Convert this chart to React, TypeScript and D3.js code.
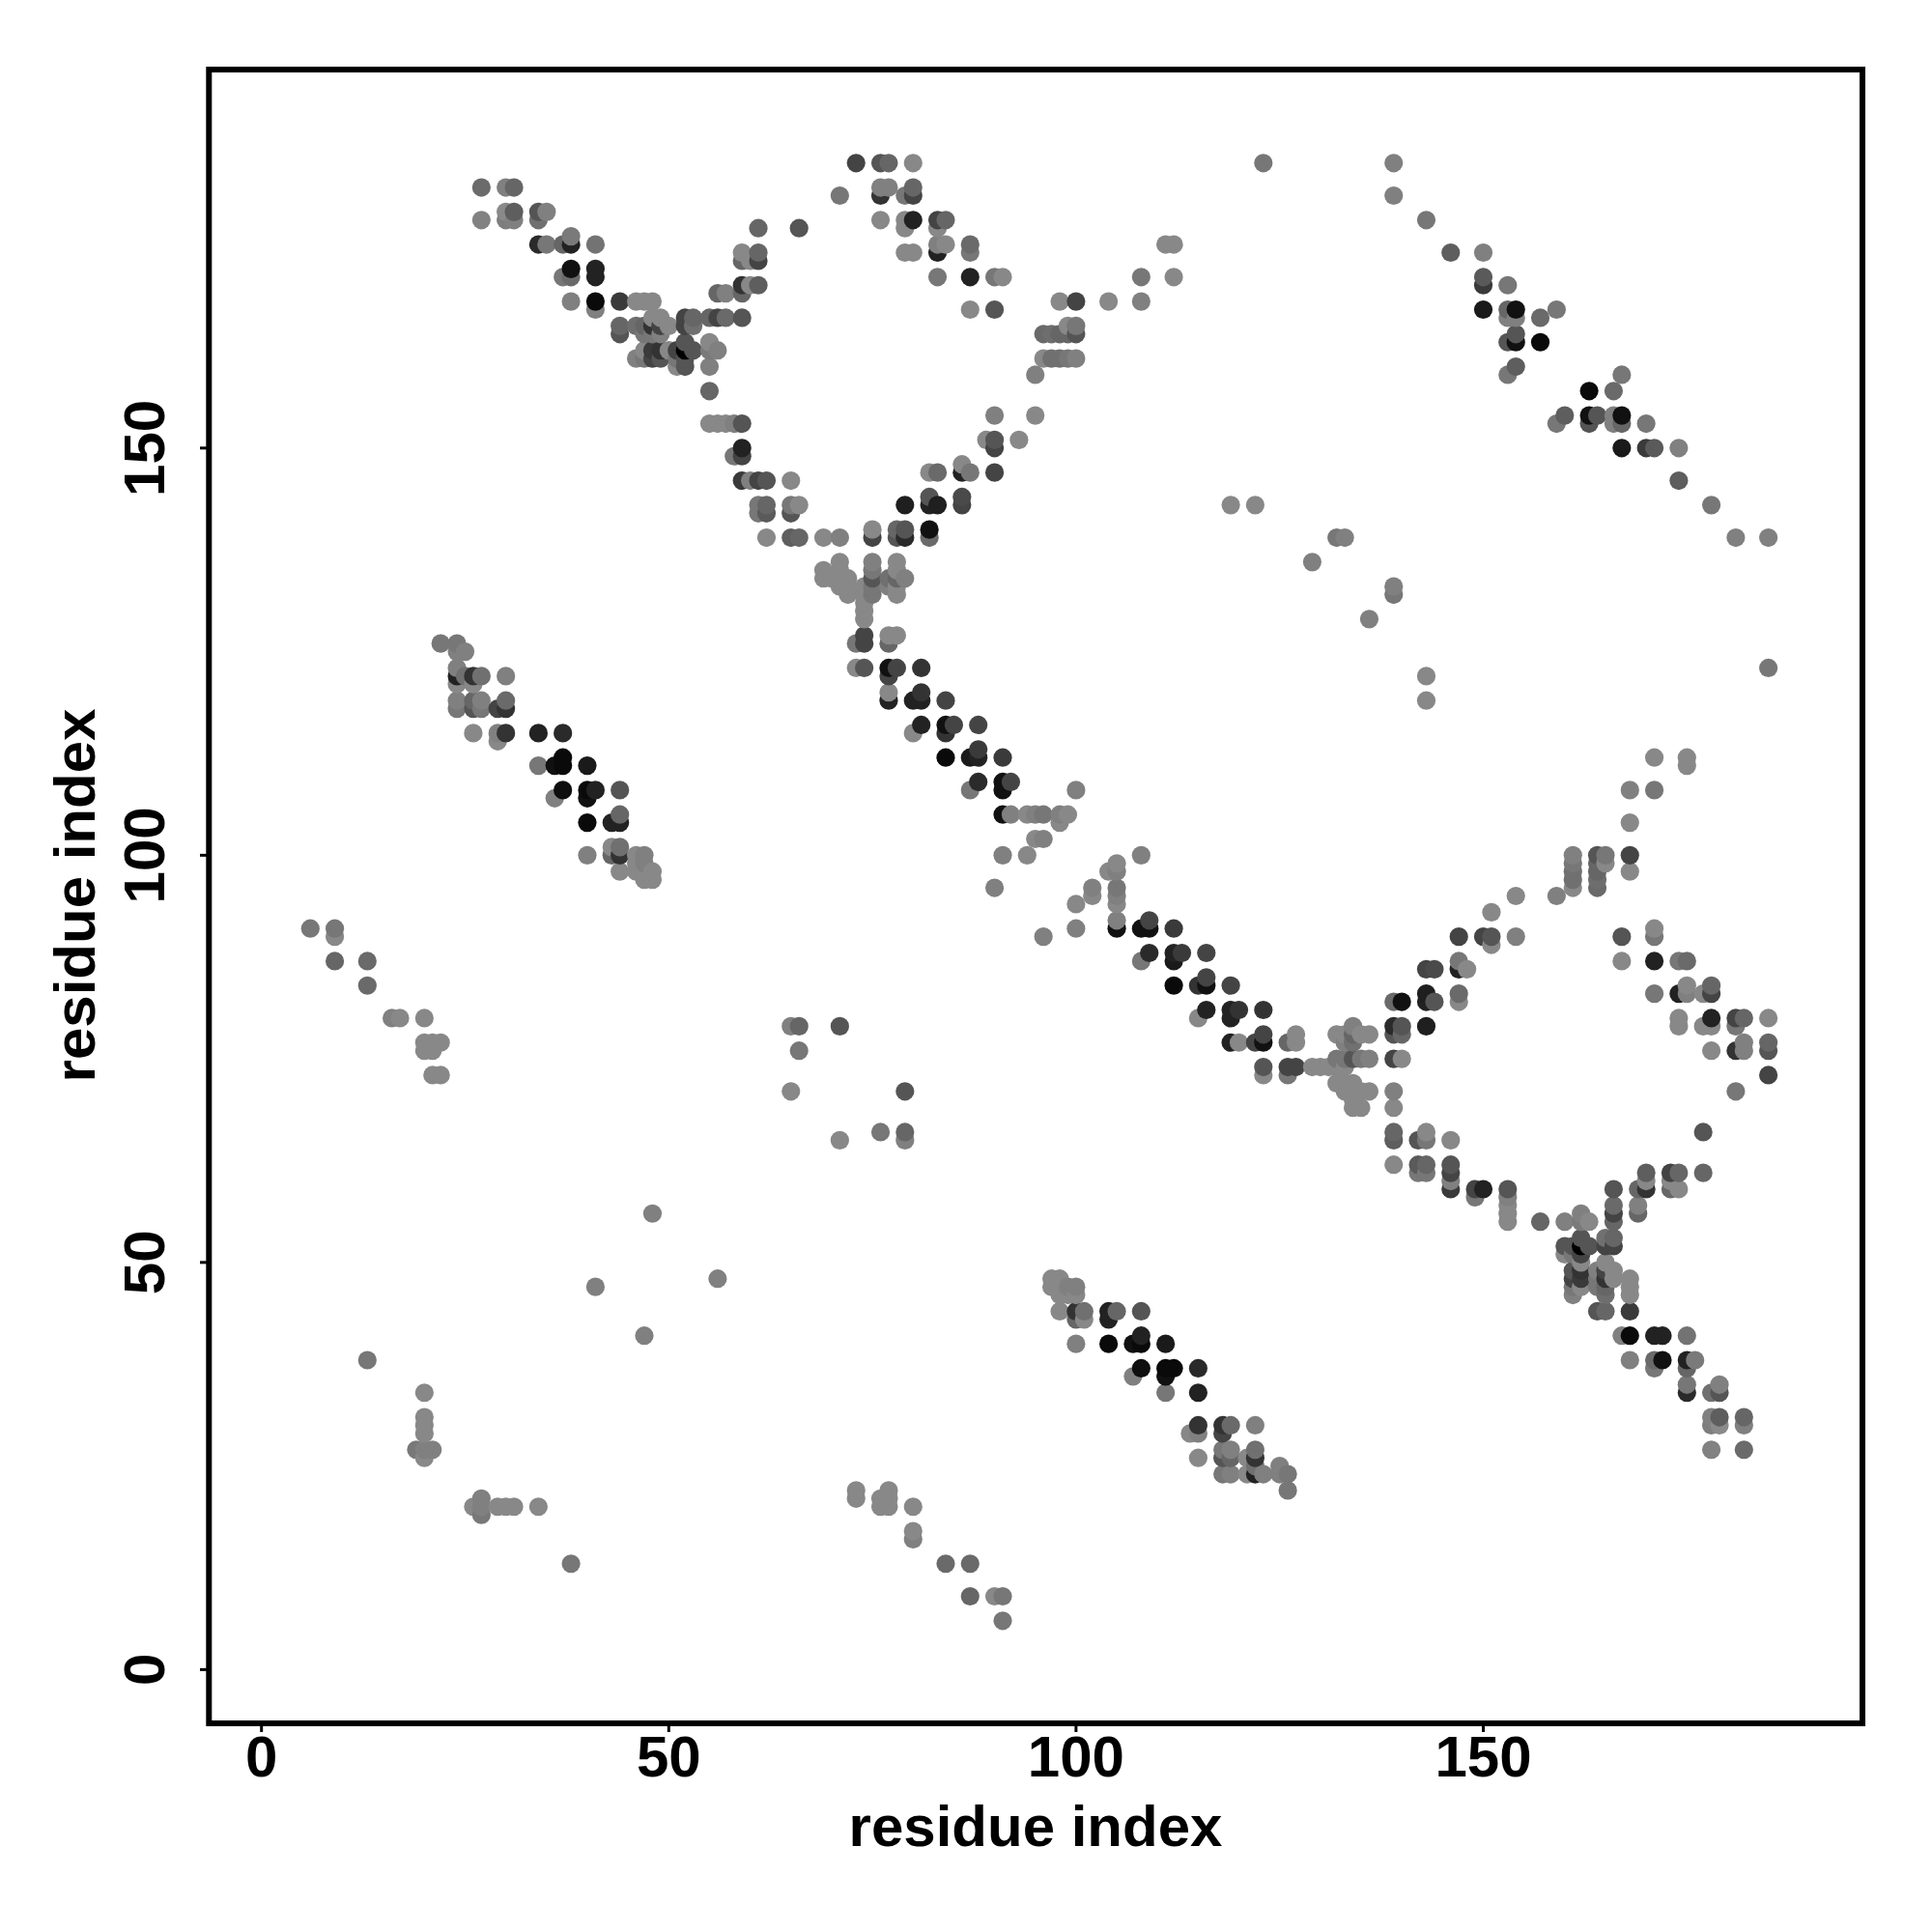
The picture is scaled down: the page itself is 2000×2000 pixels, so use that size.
import React from "react";
import * as d3 from "d3";

type Contact = [number, number, number];

const tickValues = [0, 50, 100, 150];
const axisTitle = "residue index";

// [residue i, residue j, grey level]; read from the half above the diagonal. The map is symmetric.
const distantContacts: Contact[] = [
  [6,91,0x77],[9,91,0x77],[9,90,0x88],[9,87,0x66],[13,87,0x6a],[13,84,0x6a],[16,80,0x80],[17,80,0x88],
  [20,80,0x88],[20,77,0x88],[21,77,0x88],[22,77,0x88],[20,76,0x88],[21,76,0x88],[21,73,0x88],[22,73,0x88],
  [13,38,0x77],[19,27,0x78],[20,27,0x80],[21,27,0x80],[20,26,0x88],[20,29,0x88],[20,30,0x88],[20,31,0x88],[20,34,0x88],
  [41,47,0x80],[48,56,0x80],[65,71,0x88],[65,79,0x80],[66,79,0x66],[66,76,0x77],[71,79,0x55],
  [119,143,0x88],[122,143,0x88],[132,139,0x77],[133,139,0x80],[129,136,0x80],[123,185,0x77],
];

const sheetPairA: Contact[] = [
  [22,126,0x77],[24,126,0x77],[24,125,0x80],[25,125,0x80],[24,123,0x80],
  [24,122,0x22],[25,122,0x70],[26,122,0x33],[27,122,0x70],[30,122,0x80],[24,121,0x88],[26,121,0x88],
  [24,119,0x80],[26,119,0x66],[27,119,0x80],[30,119,0x6a],
  [24,118,0x77],[26,118,0x55],[27,118,0x77],[29,118,0x44],[30,118,0x33],
  [26,115,0x88],[29,115,0x80],[30,115,0x33],[34,115,0x22],[37,115,0x2a],[29,114,0x88],
  [37,112,0x0a],[34,111,0x77],[36,111,0x11],[37,111,0x0a],[40,111,0x1a],
  [37,108,0x0f],[40,108,0x0a],[41,108,0x22],[44,108,0x55],[36,107,0x80],[40,107,0x11],
  [44,105,0x66],[40,104,0x0a],[43,104,0x22],[44,104,0x22],
  [43,101,0x88],[44,101,0x70],[40,100,0x80],[43,100,0x66],[44,100,0x33],[46,100,0x88],[47,100,0x80],
  [46,99,0x88],[47,99,0x80],[44,98,0x88],[46,98,0x88],[48,98,0x88],[47,97,0x88],[48,97,0x88],
];

const sheetPairB: Contact[] = [
  [27,182,0x6b],[30,182,0x80],[31,182,0x66],[30,179,0x8a],[31,179,0x5e],[34,179,0x55],[35,179,0x80],
  [27,178,0x82],[30,178,0x7e],[31,178,0x80],[34,178,0x70],[38,176,0x7a],
  [34,175,0x2a],[35,175,0x77],[37,175,0x66],[38,175,0x22],[41,175,0x73],
  [38,172,0x11],[41,172,0x22],[37,171,0x77],[38,171,0x6a],[41,171,0x22],
  [38,168,0x80],[41,168,0x0a],[44,168,0x3a],[46,168,0x88],[47,168,0x88],[48,168,0x88],[41,167,0x80],
  [48,166,0x88],[49,166,0x88],[52,166,0x44],[53,166,0x66],[55,166,0x66],[56,166,0x44],[57,166,0x6a],[59,166,0x55],
  [44,165,0x66],[46,165,0x6e],[47,165,0x66],[48,165,0x33],[49,165,0x44],[50,165,0x88],[52,165,0x44],[53,165,0x70],
  [44,164,0x55],[47,164,0x77],[48,164,0x77],[49,164,0x80],[52,163,0x55],[55,163,0x88],
  [47,162,0x88],[48,162,0x3a],[49,162,0x33],[50,162,0x88],[51,162,0x44],[52,162,0x00],[53,162,0x55],[55,162,0x7a],[56,162,0x80],
  [46,161,0x80],[47,161,0x77],[48,161,0x44],[49,161,0x55],[51,161,0x77],[52,161,0x55],
  [51,160,0x88],[52,160,0x55],[55,160,0x80],[55,157,0x66],
  [55,153,0x88],[56,153,0x88],[57,153,0x88],[58,153,0x80],[59,153,0x55],
  [59,150,0x22],[58,149,0x77],[59,149,0x44],
  [59,146,0x3a],[60,146,0x80],[61,146,0x44],[62,146,0x55],[65,146,0x88],
  [61,143,0x77],[62,143,0x66],[65,143,0x77],[66,143,0x88],[61,142,0x77],[62,142,0x5a],[65,142,0x55],
  [62,139,0x88],[65,139,0x5e],[66,139,0x66],[69,139,0x88],[71,139,0x80],
  [56,169,0x66],[57,169,0x80],[59,169,0x66],[59,170,0x33],[60,170,0x88],[61,170,0x5e],
  [59,173,0x66],[60,173,0x88],[61,173,0x44],[59,174,0x88],[61,174,0x66],[61,177,0x66],[66,177,0x55],[71,181,0x77],
];

const junctionCluster: Contact[] = [
  [71,136,0x88],[75,136,0x80],[78,136,0x88],[69,135,0x88],[71,135,0x88],[75,135,0x77],[78,135,0x88],
  [69,134,0x88],[70,134,0x88],[72,134,0x88],[75,134,0x55],[77,134,0x70],[78,134,0x66],[79,134,0x80],
  [71,133,0x88],[72,133,0x88],[74,133,0x88],[75,133,0x77],[77,133,0x80],[78,133,0x88],
  [72,132,0x88],[74,132,0x88],[75,132,0x77],[78,132,0x88],[74,131,0x88],[74,130,0x88],[74,129,0x88],
  [75,140,0x88],[78,140,0x66],[79,140,0x55],[82,140,0x11],[75,139,0x44],[78,139,0x55],[79,139,0x2a],[82,139,0x6a],
  [79,143,0x1f],[82,143,0x22],[83,143,0x1f],[86,143,0x44],[82,144,0x55],[86,144,0x4a],
  [82,147,0x88],[83,147,0x6a],[86,147,0x22],[87,147,0x77],[90,147,0x44],[86,148,0x88],
  [89,151,0x88],[90,151,0x55],[93,151,0x88],[90,150,0x44],[90,154,0x80],[95,154,0x88],
];

const upperBranch: Contact[] = [
  [73,185,0x44],[76,185,0x55],[77,185,0x66],[80,185,0x88],[76,182,0x80],[77,182,0x80],[80,182,0x66],
  [76,181,0x33],[79,181,0x77],[80,181,0x44],[76,178,0x88],[79,178,0x88],[80,178,0x22],[83,178,0x44],[84,178,0x66],
  [79,177,0x88],[83,177,0x88],[83,175,0x80],[84,175,0x88],[87,175,0x6a],
  [79,174,0x88],[80,174,0x88],[83,174,0x22],[87,174,0x77],
  [83,171,0x77],[87,171,0x22],[90,171,0x77],[91,171,0x88],[108,171,0x77],[112,171,0x88],[111,175,0x88],[112,175,0x88],
  [98,168,0x88],[100,168,0x44],[104,168,0x88],[108,168,0x80],[87,167,0x88],[90,167,0x55],
  [99,165,0x88],[100,165,0x77],[96,164,0x6a],[97,164,0x6e],[98,164,0x66],[99,164,0x66],[100,164,0x55],
  [96,161,0x88],[97,161,0x70],[98,161,0x70],[99,161,0x77],[100,161,0x80],[95,159,0x80],
];

const centralBand: Contact[] = [
  [74,127,0x44],[77,127,0x88],[78,127,0x88],[73,126,0x77],[74,126,0x44],[77,126,0x66],
  [73,123,0x88],[74,123,0x55],[77,123,0x11],[78,123,0x44],[81,123,0x33],[77,122,0x44],
  [77,120,0x88],[81,120,0x33],[77,119,0x22],[80,119,0x22],[81,119,0x22],[84,119,0x44],
  [81,116,0x22],[84,116,0x11],[85,116,0x44],[88,116,0x44],[80,115,0x88],[84,115,0x33],[88,113,0x3a],
  [84,112,0x0a],[87,112,0x1a],[88,112,0x22],[91,112,0x3a],[88,109,0x2a],[91,109,0x11],[92,109,0x44],
  [87,108,0x77],[91,108,0x11],[100,108,0x80],
  [91,105,0x11],[92,105,0x80],[94,105,0x88],[95,105,0x80],[96,105,0x77],[98,105,0x80],[99,105,0x88],[98,104,0x88],
  [95,102,0x88],[96,102,0x80],[91,100,0x80],[94,100,0x88],[90,96,0x80],
];

const rightSheet: Contact[] = [
  [139,185,0x80],[139,181,0x80],[143,178,0x77],[146,174,0x5e],[150,174,0x80],[150,171,0x5a],[150,170,0x3a],[153,170,0x77],
  [150,167,0x1a],[153,167,0x66],[154,167,0x11],[159,167,0x77],[153,166,0x80],[154,166,0x80],[157,166,0x6a],
  [154,164,0x55],[153,163,0x55],[154,163,0x11],[157,163,0x0a],[154,160,0x5e],[153,159,0x77],
];

const halfMap: Contact[] = [
  ...distantContacts, ...sheetPairA, ...sheetPairB, ...junctionCluster, ...upperBranch, ...centralBand, ...rightSheet,
];

const contacts: Contact[] = halfMap
  .flatMap(([i, j, g]): Contact[] => [[i, j, g], [j, i, g]])
  .sort((a, b) => d3.ascending(a[0], b[0]) || d3.ascending(a[1], b[1]));

const left = 216.3, right = 1928, top = 72, bottom = 1784;
const x = d3.scaleLinear().domain([-6.45, 196.55]).range([left, right]);
const y = d3.scaleLinear().domain([-6.6, 196.48]).range([bottom, top]);
const font = "'Liberation Sans', Arial, sans-serif";

export default function App() {
  return (
    <svg width={2000} height={2000} style={{ position: "absolute", left: 0, top: 0, background: "#fff" }}>
      <g>
        {contacts.map(([i, j, g], k) => (
          <circle key={k} cx={x(i)} cy={y(j)} r={9.6} fill={d3.rgb(g, g, g).formatHex()} />
        ))}
      </g>
      <rect x={left} y={top} width={right - left} height={bottom - top} fill="none" stroke="#000" strokeWidth={6} />
      {tickValues.map((t) => (
        <g key={t} fontFamily={font} fontWeight={700} fontSize={60} fill="#000">
          <line x1={x(t)} x2={x(t)} y1={bottom} y2={1793} stroke="#000" strokeWidth={3} />
          <text x={x(t)} y={1839} textAnchor="middle">{t}</text>
          <line x1={207} x2={left} y1={y(t)} y2={y(t)} stroke="#000" strokeWidth={3} />
          <text transform={`translate(170,${y(t)}) rotate(-90)`} textAnchor="middle">{t}</text>
        </g>
      ))}
      <text x={1072} y={1911} textAnchor="middle" fontFamily={font} fontWeight={700} fontSize={60}>{axisTitle}</text>
      <text transform={`translate(98,927) rotate(-90)`} textAnchor="middle" fontFamily={font} fontWeight={700} fontSize={60}>{axisTitle}</text>
    </svg>
  );
}
